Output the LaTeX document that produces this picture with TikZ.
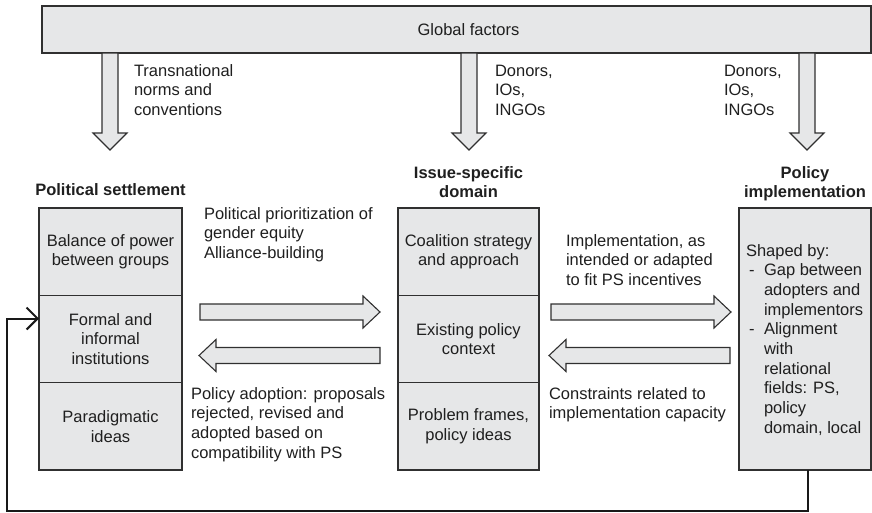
\documentclass[tikz,border=0pt]{standalone}
\usepackage{fontspec}
\setmainfont{Liberation Sans}
\usetikzlibrary{arrows.meta}
\definecolor{boxgray}{HTML}{E6E7E8}
\definecolor{linegray}{HTML}{303030}

\begin{document}
\begin{tikzpicture}[x=1pt,y=-1pt,
    every node/.style={font=\fontsize{16.5}{19.7}\selectfont, text=black!88, inner sep=0pt, outer sep=0pt},
    box/.style={draw=linegray, fill=boxgray, line width=1.1pt, align=center},
    colbox/.style={box, minimum width=143pt, minimum height=87.33pt},
    midbox/.style={box, minimum width=141pt, minimum height=87.33pt},
    bigarrow/.style={draw=linegray, fill=boxgray, line width=1.1pt},
    txt/.style={align=left, anchor=base west},
    head/.style={font=\fontsize{16.5}{19.7}\selectfont\bfseries, align=center, anchor=base},
    feedback/.style={draw=black!90, line width=2pt, -{Straight Barb[length=11pt,width=22pt]}}]
    \useasboundingbox (0,0) rectangle (872,512);

    % Global factors bar
    \node[box, minimum width=829pt, minimum height=47pt] (glob) at (456.5,29.5) {};
    \node (globlbl) at (468.5,29.5) {Global factors};

    % Down arrows
    \draw[bigarrow] (102,53) -- (102,133) -- (93,133) -- (110,150) -- (127,133) -- (118,133) -- (118,53) -- cycle;
    \draw[bigarrow] (461,53) -- (461,133) -- (452,133) -- (469,150) -- (486,133) -- (477,133) -- (477,53) -- cycle;
    \draw[bigarrow] (799,53) -- (799,133) -- (790,133) -- (807,150) -- (824,133) -- (815,133) -- (815,53) -- cycle;

    % Down arrow labels (base = last line)
    \node[txt] (norms) at (134,115.4) {Transnational\\norms and\\conventions};
    \node[txt] (donmid) at (495,115.4) {Donors,\\IOs,\\INGOs};
    \node[txt] (donright) at (724,115.4) {Donors,\\IOs,\\INGOs};

    % Column headers
    \node[head] (pshead) at (110.5,195) {Political settlement};
    \node[head] (dshead) at (468.5,197.7) {Issue-specific\\domain};
    \node[head] (imhead) at (805,197.7) {Policy\\implementation};

    % Political settlement column
    \node[colbox] (bal) at (110.5,251.67) {Balance of power\\between groups};
    \node[colbox] (inst) at (110.5,339) {Formal and\\informal\\institutions};
    \node[colbox] (para) at (110.5,426.33) {Paradigmatic\\ideas};

    % Issue-specific domain column
    \node[midbox] (coal) at (468.5,251.67) {Coalition strategy\\and approach};
    \node[midbox] (ctx) at (468.5,339) {Existing policy\\context};
    \node[midbox] (frames) at (468.5,426.33) {Problem frames,\\policy ideas};

    % Policy implementation column
    \node[box, minimum width=132pt, minimum height=262pt] (impl) at (805,339) {};
    \node[txt] (shaped) at (746,433.3) {Shaped by:\\
        \makebox[18pt][l]{\hspace{3pt}-}Gap between\\
        \hspace*{18pt}adopters and\\
        \hspace*{18pt}implementors\\
        \makebox[18pt][l]{\hspace{3pt}-}Alignment\\
        \hspace*{18pt}with\\
        \hspace*{18pt}relational\\
        \hspace*{18pt}fields: PS,\\
        \hspace*{18pt}policy\\
        \hspace*{18pt}domain, local};

    % Horizontal arrows
    % -- settlement <-> domain
    \draw[bigarrow] (200,304) -- (363,304) -- (363,296) -- (380,312) -- (363,328) -- (363,320) -- (200,320) -- cycle;
    \draw[bigarrow] (380,347.5) -- (216,347.5) -- (216,339.5) -- (199,355.5) -- (216,371.5) -- (216,363.5) -- (380,363.5) -- cycle;
    % -- domain <-> implementation
    \draw[bigarrow] (551,304) -- (714,304) -- (714,296) -- (731,312) -- (714,328) -- (714,320) -- (551,320) -- cycle;
    \draw[bigarrow] (730,347.5) -- (566,347.5) -- (566,339.5) -- (549,355.5) -- (566,371.5) -- (566,363.5) -- (730,363.5) -- cycle;

    % Arrow labels
    \node[txt] (prior) at (204,258.4) {Political prioritization of\\gender equity\\Alliance-building};
    \node[txt] (adopt) at (191,458.1) {Policy adoption: proposals\\rejected, revised and\\adopted based on\\compatibility with PS};
    \node[txt] (implab) at (566,285.4) {Implementation, as\\intended or adapted\\to fit PS incentives};
    \node[txt] (constr) at (549,418.7) {Constraints related to\\implementation capacity};

    % Feedback loop
    \coordinate (fbcorner) at (7,510.5);
    \draw[feedback] ([xshift=3pt]impl.south) |- (fbcorner) |- ([yshift=20.5pt]inst.west);
\end{tikzpicture}
\end{document}
